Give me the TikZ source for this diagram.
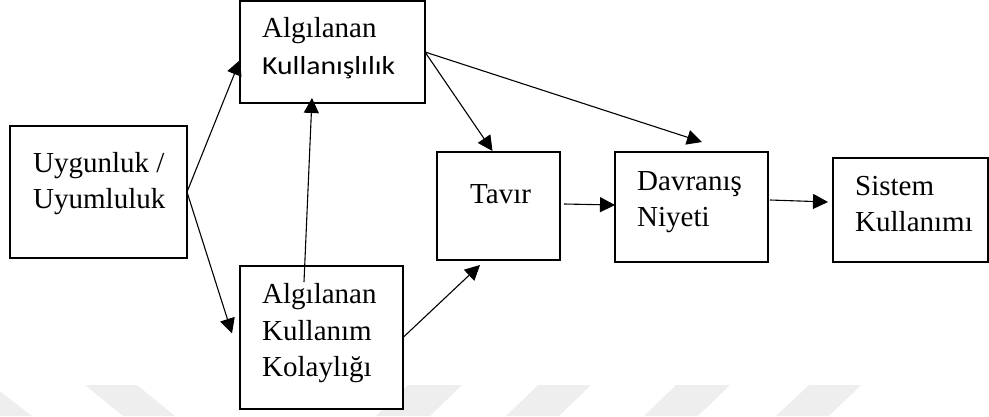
\documentclass[tikz,border=0pt]{standalone}
\usepackage{fontspec}
\setmainfont{Liberation Serif}
\newfontfamily\sansbox{Carlito}[FakeStretch=1.14]
\usetikzlibrary{arrows.meta,calc}
\definecolor{wmgray}{RGB}{238,238,238}
\tikzset{
  box/.style={draw, line width=2.3pt, fill=white, inner sep=0pt, outer sep=0pt},
  lbl/.style={anchor=base west, inner sep=0pt, font=\fontsize{29}{34}\selectfont},
  slbl/.style={anchor=base west, inner sep=0pt, font=\sansbox\fontsize{26}{31}\selectfont},
  link/.style={line width=1.1pt, -{Triangle[length=15pt,width=15pt]}},
  wm/.style={fill=wmgray, draw=none},
}
\begin{document}
\begin{tikzpicture}[x=1pt,y=-1pt]
\useasboundingbox (0,0) rectangle (989,416);

% faint background stripes along the bottom edge
\begin{scope}
  \clip (0,0) rectangle (989,416);
  \fill[wm] (-60,385) -- (-8,385) -- (32,416) -- (-20,416) -- cycle;
  \fill[wm] (85,385) -- (137,385) -- (175,416) -- (123,416) -- cycle;
  \fill[wm] (408,385) -- (462,385) -- (430,416) -- (376,416) -- cycle;
  \fill[wm] (538,385) -- (591,385) -- (559,416) -- (506,416) -- cycle;
  \fill[wm] (676,385) -- (730,385) -- (698,416) -- (644,416) -- cycle;
  \fill[wm] (809,385) -- (861,385) -- (829,416) -- (776,416) -- cycle;
\end{scope}

% boxes
\node[box, minimum width=177pt, minimum height=132pt] (U)   at (98.5,192) {};
\node[box, minimum width=185pt, minimum height=102pt] (AK)  at (332.5,52) {};
\node[box, minimum width=163pt, minimum height=143pt] (AKK) at (321.5,337.5) {};
\node[box, minimum width=123pt, minimum height=108pt] (T)   at (498.5,206) {};
\node[box, minimum width=153pt, minimum height=110pt] (D)   at (691.5,207) {};
\node[box, minimum width=155pt, minimum height=104pt] (S)   at (910.5,210) {};

% labels
\node[lbl]  (u1) at (33,172) {Uygunluk /};
\node[lbl]  (u2) at (33,208) {Uyumluluk};
\node[lbl]  (k1) at (262,37) {Algılanan};
\node[slbl] (k2) at (262,74) {Kullanışlılık};
\node[lbl]  (e1) at (262,303) {Algılanan};
\node[lbl]  (e2) at (262,340) {Kullanım};
\node[lbl]  (e3) at (262,376) {Kolaylığı};
\node[lbl]  (t1) at (470,203) {Tavır};
\node[lbl]  (d1) at (637,190) {Davranış};
\node[lbl]  (d2) at (637,226) {Niyeti};
\node[lbl]  (s1) at (855,195) {Sistem};
\node[lbl]  (s2) at (855,231) {Kullanımı};

% connectors
\draw[link] (U.east) -- ([yshift=-8pt]AK.west);
\draw[link] (U.east) -- ([xshift=-8pt,yshift=4pt]AKK.west);
\draw[link] ([xshift=-17.5pt,yshift=-16pt]AKK.north) -- ([xshift=-20.5pt,yshift=5pt]AK.south);
\draw[link] (AK.east) -- ([xshift=-6pt,yshift=1pt]T.north);
\draw[link] (AK.east) -- ([xshift=10.5pt,yshift=10pt]D.north);
\draw[link] (AKK.east) -- ([xshift=-18.5pt,yshift=-5pt]T.south);
\draw[link] ([xshift=4pt,yshift=2pt]T.east) -- ([yshift=2pt]D.west);
\draw[link] ([xshift=2pt,yshift=7pt]D.east) -- ([xshift=-5pt,yshift=8pt]S.west);
\end{tikzpicture}
\end{document}
